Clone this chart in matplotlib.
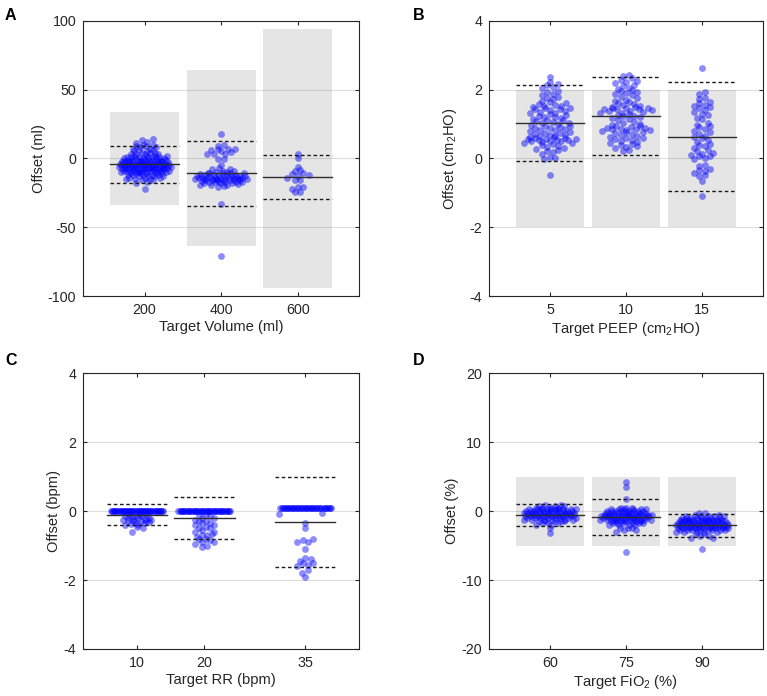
#!/usr/bin/env python3
"""Offset of delivered vs. target ventilator settings, four panels (A-D)."""

import matplotlib

matplotlib.use("Agg")
import matplotlib.pyplot as plt
import numpy as np

plt.rcParams["font.family"] = ["Liberation Sans", "DejaVu Sans"]
plt.rcParams["mathtext.fontset"] = "custom"
plt.rcParams["mathtext.rm"] = "Liberation Sans"
plt.rcParams["mathtext.default"] = "regular"
plt.rcParams["axes.unicode_minus"] = False

# ---------------------------------------------------------------- data
# Panel A: tidal volume
vol_targets = [200, 400, 600]
vol_200 = (
    [-22, -18, -17, -16, -16, -15, -15, -15, -14, -14, -14]
    + [-13] * 4 + [-12] * 5 + [-11] * 6 + [-10] * 7 + [-9] * 8 + [-8] * 9
    + [-7] * 10 + [-6] * 10 + [-5] * 11 + [-4] * 10 + [-3] * 9 + [-2] * 8
    + [-1] * 7 + [0] * 6 + [1] * 5 + [2] * 4 + [3] * 4 + [4] * 3
    + [5, 5, 6, 6, 7, 7, 8, 8, 9, 9, 10, 10, 11, 12, 13, 14]
)
vol_400 = [
    17.5, 10, 8.7, 6.5, 6.5, 6, 6.5, 5, 4.8, 3, 2.9, 3, -0.5, -0.3, -5,
    -7.3, -7.5, -8,
    -9, -9.5, -10, -10, -10.5, -11, -11, -11, -11.5, -12, -12, -12, -12,
    -12.5, -13, -13, -13, -13, -13.5, -14, -14, -14, -14, -14, -14.5, -15,
    -15, -15, -15, -15, -15.5, -16, -16, -16, -16, -16, -16.5, -17, -17,
    -17, -17, -17.5, -18, -18, -18, -18.5, -19, -19, -19.5, -20, -20.5,
    -11, -12.5, -13.5, -15, -16, -17, -13, -14, -15,
    -33, -71,
]
vol_600 = [3, 0.5, -6, -8.5, -9, -11, -11.5, -12, -13, -14, -15.5, -16,
           -20.5, -21, -22, -24.5, -24.5]
vol_mean = [-4.4, -10.9, -13.3]
vol_upper = [8.7, 12.8, 2.7]
vol_lower = [-17.7, -34.6, -29.3]
vol_band = [34, 64, 94]

# Panel B: PEEP
peep_targets = [5, 10, 15]
peep_5 = [
    2.37, 2.22, 2.16, 2.12, 2.08, 2.03, 1.97, 1.93, 1.88, 1.84, 1.79, 1.76,
    1.72, 1.68, 1.64, 1.62, 1.58, 1.56, 1.53, 1.51, 1.49, 1.47, 1.45, 1.44,
    1.42, 1.40, 1.38, 1.36, 1.33, 1.31, 1.28, 1.26, 1.23, 1.21, 1.19, 1.16,
    1.14, 1.12, 1.10, 1.08, 1.06, 1.04, 1.02, 0.99, 0.97, 0.95, 0.93, 0.91,
    0.89, 0.87, 0.85, 0.83, 0.81, 0.79, 0.77, 0.75, 0.73, 0.71, 0.69, 0.68,
    0.66, 0.64, 0.62, 0.61, 0.59, 0.58, 0.57, 0.56, 0.55, 0.54, 0.53, 0.52,
    0.51, 0.50, 0.49, 0.48, 0.46, 0.44, 0.41, 0.38, 0.35, 0.33, 0.30, 0.28,
    0.25, 0.21, 0.17, 0.12, 0.05, 0.01, -0.01, -0.48,
]
peep_10 = [
    2.41, 2.38, 2.33, 2.28, 2.24, 2.21, 2.18, 2.14, 2.09, 2.05, 2.02, 1.99,
    1.97, 1.94, 1.90, 1.86, 1.83, 1.79, 1.74, 1.70, 1.68, 1.63, 1.60, 1.57,
    1.55, 1.52, 1.50, 1.48, 1.47, 1.46, 1.45, 1.44, 1.43, 1.42, 1.41, 1.39,
    1.37, 1.35, 1.33, 1.31, 1.29, 1.27, 1.24, 1.22, 1.19, 1.16, 1.13, 1.10,
    1.07, 1.04, 1.01, 0.98, 0.95, 0.93, 0.91, 0.89, 0.87, 0.86, 0.85, 0.84,
    0.83, 0.82, 0.80, 0.78, 0.76, 0.74, 0.72, 0.69, 0.66, 0.63, 0.60, 0.58,
    0.55, 0.52, 0.49, 0.47, 0.45, 0.42, 0.39, 0.36, 0.33, 0.30, 0.25, 0.21,
]
peep_15 = [
    2.64, 1.93, 1.88, 1.75, 1.72, 1.63, 1.60, 1.56, 1.52, 1.48, 1.45, 1.41,
    1.36, 1.30, 1.25, 1.17, 1.13, 1.04, 0.98, 0.93, 0.90, 0.86, 0.80, 0.76,
    0.71, 0.66, 0.62, 0.58, 0.54, 0.48, 0.43, 0.40, 0.35, 0.30, 0.25, 0.20,
    0.16, 0.12, 0.10, 0.08, 0.06, 0.02, -0.02, -0.18, -0.21, -0.30, -0.34,
    -0.38, -0.43, -0.47, -0.50, -0.65, -1.09,
]
peep_mean = [1.03, 1.22, 0.63]
peep_upper = [2.14, 2.36, 2.21]
peep_lower = [-0.09, 0.09, -0.96]
peep_band = [2, 2, 2]

# Panel C: respiratory rate
rr_targets = [10, 20, 35]
rr_10 = [0.0] * 50 + [
    -0.1, -0.1, -0.12, -0.15, -0.15, -0.18, -0.2, -0.2, -0.22, -0.25, -0.25,
    -0.28, -0.3, -0.3, -0.32, -0.35, -0.35, -0.38, -0.4, -0.4, -0.45, -0.5,
    -0.6, -0.15, -0.2, -0.25, -0.3,
]
rr_20 = [0.0] * 45 + [
    -0.1, -0.1, -0.15, -0.2, -0.2, -0.25, -0.3, -0.3, -0.35, -0.4, -0.4,
    -0.45, -0.5, -0.5, -0.55, -0.6, -0.65, -0.7, -0.7, -0.75, -0.8, -0.8,
    -0.85, -0.9, -0.9, -0.95, -1.0, -1.05, -0.6, -0.35,
]
rr_35 = [0.08] * 40 + [
    -0.05, -0.08, -0.35, -0.5, -0.8, -0.85, -0.9, -0.9, -1.1, -1.35, -1.4,
    -1.45, -1.5, -1.5, -1.55, -1.6, -1.7, -1.8, -1.9,
]
rr_mean = [-0.10, -0.19, -0.31]
rr_upper = [0.20, 0.41, 0.99]
rr_lower = [-0.41, -0.80, -1.61]

# Panel D: FiO2
fio2_targets = [60, 75, 90]
fio2_60 = (
    [0.9, 0.9, 0.7, 0.7, 0.7] + [0.5] * 5 + [0.25] * 9 + [0.0] * 12
    + [-0.25] * 12 + [-0.5] * 11 + [-0.75] * 9 + [-1.0] * 8 + [-1.25] * 6
    + [-1.5] * 5 + [-1.75] * 3 + [-2.0, -2.0, -2.5, -3.2]
)
fio2_75 = (
    [4.3, 3.5, 1.7, 0.5, 0.5, 0.5] + [0.25] * 6 + [0.0] * 9 + [-0.25] * 10
    + [-0.5] * 11 + [-0.75] * 11 + [-1.0] * 10 + [-1.25] * 9 + [-1.5] * 8
    + [-1.75] * 6 + [-2.0] * 4 + [-2.5] * 3 + [-2.75, -2.75, -3.0, -5.9]
)
fio2_90 = (
    [-0.2, -0.2, -0.5, -0.5] + [-0.75] * 5 + [-1.0] * 8 + [-1.25] * 10
    + [-1.5] * 11 + [-1.75] * 12 + [-2.0] * 12 + [-2.25] * 11 + [-2.5] * 10
    + [-2.75] * 8 + [-3.0] * 5 + [-3.25, -3.25, -3.6, -3.6, -3.9, -3.9, -5.5]
)
fio2_mean = [-0.58, -0.92, -2.0]
fio2_upper = [1.0, 1.7, -0.4]
fio2_lower = [-2.2, -3.5, -3.8]
fio2_band = [5, 5, 5]

# ---------------------------------------------------------------- layout
FIG_W, FIG_H = 767, 696
DPI = 100
GREY_TXT = "#262626"


def spread_offsets(vals, bin_h, dx, max_half):
    """plotSpread-like x offsets (pixels): points in a y-bin are fanned out,
    the fan widening with the bin count."""
    vals = np.asarray(vals, float)
    off = np.zeros(len(vals))
    bins = np.floor(vals / bin_h + 0.5).astype(int)
    counts = {b: np.sum(bins == b) for b in np.unique(bins)}
    n_max = max(counts.values())
    for b, n in counts.items():
        if n == 1:
            continue
        idx = np.where(bins == b)[0]
        half = min(max_half * np.sqrt(n / n_max), (n - 1) * dx / 2)
        slots = np.linspace(-half, half, n)
        order = np.argsort((np.arange(n) * 0.618034) % 1)
        idx_sorted = idx[np.argsort(vals[idx], kind="stable")]
        off[idx_sorted] = slots[order]
    return off


def panel(rect, targets, groups, mean, upper, lower, band,
          xlim, ylim, yticks, half_w, xlabel, ylabel, ylab_x):
    ax = fig.add_axes(rect)
    ax.set_xlim(xlim)
    ax.set_ylim(ylim)
    w_px = rect[2] * FIG_W
    h_px = rect[3] * FIG_H
    ppx = w_px / (xlim[1] - xlim[0])
    ppy = h_px / (ylim[1] - ylim[0])

    if band is not None:
        ax.bar(targets, [2 * b for b in band], bottom=[-b for b in band],
               width=2 * half_w, color="#e5e5e5", zorder=0.5)

    for t, vals in zip(targets, groups):
        off = spread_offsets(vals, 6.0 / ppy, 5.5, 26.0) / ppx
        ax.scatter(t + off, vals, s=24, color="blue", alpha=0.45,
                   linewidths=0, zorder=2)

    for t, m, u, lo in zip(targets, mean, upper, lower):
        ax.plot([t - half_w, t + half_w], [m, m], color="#2e2e2e", lw=1.0,
                zorder=3)
        for v in (u, lo):
            ax.plot([t - half_w, t + half_w], [v, v], color="#1a1a1a",
                    lw=1.0, ls=(0, (2.6, 1.9)), zorder=3)

    ax.set_xticks(targets)
    ax.set_yticks(yticks)
    ax.yaxis.grid(True, color="black", alpha=0.13, lw=0.8)
    ax.tick_params(direction="in", top=True, right=True, length=3,
                   labelsize=10.3, colors=GREY_TXT, pad=5)
    for s in ax.spines.values():
        s.set_color(GREY_TXT)
        s.set_linewidth(0.8)
    ax.set_xlabel(xlabel, fontsize=10.6, color=GREY_TXT, labelpad=2)
    ax.set_ylabel(ylabel, fontsize=10.6, color=GREY_TXT)
    ax.yaxis.set_label_coords(ylab_x, 0.5)
    return ax


fig = plt.figure(figsize=(FIG_W / DPI, FIG_H / DPI), dpi=DPI)


def frac(left, top, right, bottom):
    return [left / FIG_W, 1 - bottom / FIG_H, (right - left) / FIG_W,
            (bottom - top) / FIG_H]


panel(frac(83.3, 20.7, 359, 296), vol_targets,
      [vol_200, vol_400, vol_600], vol_mean, vol_upper, vol_lower, vol_band,
      (40, 760), (-100, 100), [-100, -50, 0, 50, 100], 90,
      "Target Volume (ml)", "Offset (ml)", -0.135)
panel(frac(489, 20.7, 763, 296), peep_targets,
      [peep_5, peep_10, peep_15], peep_mean, peep_upper, peep_lower,
      peep_band, (1, 19), (-4, 4), [-4, -2, 0, 2, 4], 2.25,
      "Target PEEP (cm$_2$HO)", "Offset (cm$_2$HO)", -0.108)
panel(frac(83.3, 373.3, 359, 649), rr_targets,
      [rr_10, rr_20, rr_35], rr_mean, rr_upper, rr_lower, None,
      (2, 43), (-4, 4), [-4, -2, 0, 2, 4], 4.5,
      "Target RR (bpm)", "Offset (bpm)", -0.08)
panel(frac(489, 373.3, 763, 649), fio2_targets,
      [fio2_60, fio2_75, fio2_90], fio2_mean, fio2_upper, fio2_lower,
      fio2_band, (48, 102), (-20, 20), [-20, -10, 0, 10, 20], 6.75,
      "Target FiO$_2$ (%)", "Offset (%)", -0.108)

for letter, x_px, y_px in [("A", 5, 8), ("B", 413, 8), ("C", 5, 353),
                           ("D", 413, 353)]:
    fig.text(x_px / FIG_W, 1 - y_px / FIG_H, letter, fontsize=11.5,
             fontweight="bold", va="top", ha="left", color="black")

fig.savefig("out.png", dpi=DPI)
